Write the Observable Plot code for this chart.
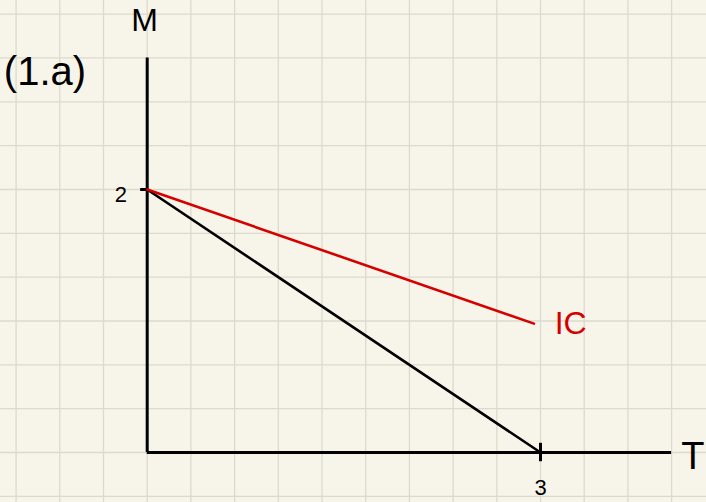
<!DOCTYPE html>
<html>
<head>
<meta charset="utf-8">
<script src="https://cdn.jsdelivr.net/npm/d3@7"></script>
<script src="https://cdn.jsdelivr.net/npm/@observablehq/plot@0.6"></script>
<style>
  html, body { margin: 0; padding: 0; background: #f7f5ea; }
  #chart svg { display: block; }
</style>
</head>
<body>
<div id="chart"></div>
<script>
// Budget line (black) and indifference curve (red), in (T, M) units
const budgetT = [0, 3];
const budgetM = [2, 0];
const icT = [0, 2.95];
const icM = [2, 0.98];

// axis extents and tick labels
const axisTMax = 4;
const axisMMax = 3;
const tickT = [3];
const tickM = [2];
const tickTLabels = ["3"];
const tickMLabels = ["2"];

// grid-paper lines (one square = 1/3 unit)
const gridX = d3.range(-3, 13).map(k => k / 3);
const gridY = d3.range(-1, 11).map(k => k / 3);

const budget = budgetT.map((t, i) => ({T: t, M: budgetM[i]}));
const ic = icT.map((t, i) => ({T: t, M: icM[i]}));

const hand = "'Liberation Sans', 'DejaVu Sans', sans-serif";

const chart = Plot.plot({
  width: 706,
  height: 502,
  margin: 0,
  style: {background: "#f7f5ea", fontFamily: hand},
  x: {domain: [-1.119, 4.266], axis: null},
  y: {domain: [-0.380, 3.437], axis: null},
  marks: [
    Plot.ruleX(gridX, {stroke: "#dcd9cd", strokeWidth: 1.3}),
    Plot.ruleY(gridY, {stroke: "#dcd9cd", strokeWidth: 1.3}),
    // axes
    Plot.ruleX([0], {y1: 0, y2: axisMMax, stroke: "#000", strokeWidth: 3}),
    Plot.ruleY([0], {x1: 0, x2: axisTMax, stroke: "#000", strokeWidth: 3}),
    // ticks
    Plot.ruleX(tickT, {y1: -0.07, y2: 0.07, stroke: "#000", strokeWidth: 3}),
    Plot.ruleY(tickM, {x1: -0.05, x2: 0, stroke: "#000", strokeWidth: 3}),
    // lines
    Plot.line(budget, {x: "T", y: "M", stroke: "#000", strokeWidth: 2.6}),
    Plot.line(ic, {x: "T", y: "M", stroke: "#d50000", strokeWidth: 2.6}),
    // tick labels
    Plot.text(tickT, {x: d => d, y: -0.27, text: (d, i) => tickTLabels[i], fontSize: 22, fill: "#000"}),
    Plot.text(tickM, {x: -0.2, y: d => d - 0.04, text: (d, i) => tickMLabels[i], fontSize: 22, fill: "#000"}),
    // axis titles and labels
    Plot.text(["M"], {x: -0.02, y: 3.285, text: d => d, fontSize: 32, fill: "#000"}),
    Plot.text(["T"], {x: 4.25, y: -0.03, text: d => d, fontSize: 38, textAnchor: "end", fill: "#000"}),
    Plot.text(["(1.a)"], {x: -0.78, y: 2.89, text: d => d, fontSize: 40, fill: "#000"}),
    Plot.text(["IC"], {x: 3.23, y: 0.98, text: d => d, fontSize: 32, fill: "#d50000"})
  ]
});
document.getElementById("chart").appendChild(chart);
</script>
</body>
</html>
